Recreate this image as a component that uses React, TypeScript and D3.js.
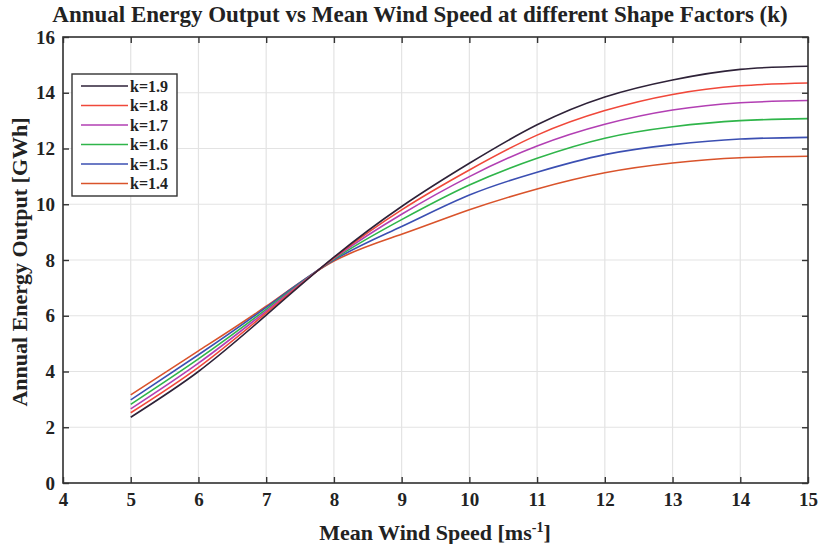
import { useEffect, useRef } from "react";
import * as d3 from "d3";

const windSpeeds = [5, 6, 7, 8, 9, 10, 11, 12, 13, 14, 15];

const shapeLabels = ["k=1.9", "k=1.8", "k=1.7", "k=1.6", "k=1.5", "k=1.4"];
const seriesColors = ["#2e2238", "#f0483a", "#b23fb3", "#2fb54a", "#3b4fb2", "#d9532b"];

const k19 = [2.36, 4.0, 6.02, 8.1, 9.92, 11.47, 12.85, 13.85, 14.46, 14.84, 14.95];
const k18 = [2.52, 4.15, 6.1, 8.08, 9.8, 11.23, 12.48, 13.36, 13.94, 14.25, 14.35];
const k17 = [2.66, 4.3, 6.17, 8.06, 9.64, 10.99, 12.09, 12.87, 13.38, 13.64, 13.72];
const k16 = [2.82, 4.45, 6.23, 8.03, 9.45, 10.69, 11.65, 12.37, 12.78, 13.0, 13.07];
const k15 = [2.98, 4.6, 6.3, 8.0, 9.2, 10.33, 11.15, 11.78, 12.14, 12.34, 12.4];
const k14 = [3.16, 4.74, 6.34, 7.96, 8.92, 9.8, 10.55, 11.13, 11.48, 11.67, 11.72];

const seriesValues = [k19, k18, k17, k16, k15, k14];

const xTicks = [4, 5, 6, 7, 8, 9, 10, 11, 12, 13, 14, 15];
const yTicks = [0, 2, 4, 6, 8, 10, 12, 14, 16];

const App = () => {
    const svgRef = useRef<SVGSVGElement>(null);

    useEffect(() => {
        if (!svgRef.current) return;
        const svg = d3.select(svgRef.current);
        svg.selectAll("*").remove();

        const width = 825;
        const height = 544;
        const margin = { top: 37, right: 17, bottom: 61, left: 63 };
        const w = width - margin.left - margin.right;
        const h = height - margin.top - margin.bottom;
        const font = "'Liberation Serif', 'Times New Roman', serif";

        const x = d3.scaleLinear().domain([4, 15]).range([0, w]);
        const y = d3.scaleLinear().domain([0, 16]).range([h, 0]);

        const g = svg.append("g")
            .attr("transform", `translate(${margin.left},${margin.top})`);

        // grid
        g.selectAll(".gx")
            .data(xTicks)
            .join("line")
            .attr("x1", d => x(d))
            .attr("x2", d => x(d))
            .attr("y1", 0)
            .attr("y2", h)
            .style("stroke", "#e3e3e3")
            .style("stroke-width", 1.2);

        g.selectAll(".gy")
            .data(yTicks)
            .join("line")
            .attr("x1", 0)
            .attr("x2", w)
            .attr("y1", d => y(d))
            .attr("y2", d => y(d))
            .style("stroke", "#e3e3e3")
            .style("stroke-width", 1.2);

        // lines
        const line = d3.line<number>()
            .x((_, i) => x(windSpeeds[i]))
            .y(d => y(d))
            .curve(d3.curveNatural);

        // draw k=1.4 first so k=1.9 sits on top
        seriesValues.slice().reverse().forEach((vals, ri) => {
            const i = seriesValues.length - 1 - ri;
            g.append("path")
                .datum(vals)
                .attr("d", line)
                .attr("fill", "none")
                .attr("stroke", seriesColors[i])
                .attr("stroke-width", 1.6);
        });

        // axes with inward ticks
        const xAxisBottom = d3.axisBottom(x).tickValues(xTicks).tickSize(-6).tickPadding(10);
        const xAxisTop = d3.axisTop(x).tickValues(xTicks).tickSize(-6).tickFormat(() => "");
        const yAxisLeft = d3.axisLeft(y).tickValues(yTicks).tickSize(-6).tickPadding(8);
        const yAxisRight = d3.axisRight(y).tickValues(yTicks).tickSize(-6).tickFormat(() => "");

        const styleAxis = (sel: any) => {
            sel.select(".domain").remove();
            sel.selectAll("line").attr("stroke", "#333").attr("stroke-width", 1.4);
            sel.selectAll("text")
                .style("font-family", font)
                .style("font-size", "19px")
                .style("font-weight", "bold")
                .style("fill", "#222");
        };

        g.append("g").attr("transform", `translate(0,${h})`).call(xAxisBottom).call(styleAxis);
        g.append("g").call(xAxisTop).call(styleAxis);
        g.append("g").call(yAxisLeft).call(styleAxis);
        g.append("g").attr("transform", `translate(${w},0)`).call(yAxisRight).call(styleAxis);

        g.append("rect")
            .attr("x", 0)
            .attr("y", 0)
            .attr("width", w)
            .attr("height", h)
            .attr("fill", "none")
            .attr("stroke", "#333")
            .attr("stroke-width", 1.6);

        // legend
        const legend = g.append("g").attr("transform", `translate(${72 - margin.left},${74 - margin.top})`);
        legend.append("rect")
            .attr("width", 105)
            .attr("height", 122)
            .attr("fill", "white")
            .attr("stroke", "#333")
            .attr("stroke-width", 1.4);

        shapeLabels.forEach((label, i) => {
            const ly = 12 + i * 19.5;
            legend.append("line")
                .attr("x1", 9)
                .attr("x2", 56)
                .attr("y1", ly)
                .attr("y2", ly)
                .attr("stroke", seriesColors[i])
                .attr("stroke-width", 1.6);
            legend.append("text")
                .attr("x", 58)
                .attr("y", ly)
                .attr("dy", "0.35em")
                .style("font-family", font)
                .style("font-size", "16px")
                .style("font-weight", "bold")
                .style("fill", "#222")
                .text(label);
        });

        // title
        svg.append("text")
            .attr("x", 420)
            .attr("y", 22)
            .attr("text-anchor", "middle")
            .style("font-family", font)
            .style("font-size", "23px")
            .style("font-weight", "bold")
            .style("fill", "#222")
            .text("Annual Energy Output vs Mean Wind Speed at different Shape Factors (k)");

        // x label
        const xl = svg.append("text")
            .attr("x", 435)
            .attr("y", 540)
            .attr("text-anchor", "middle")
            .style("font-family", font)
            .style("font-size", "22px")
            .style("font-weight", "bold")
            .style("fill", "#222");
        xl.append("tspan").text("Mean Wind Speed [ms");
        xl.append("tspan").attr("dy", -8).style("font-size", "14px").text("-1");
        xl.append("tspan").attr("dy", 8).text("]");

        // y label
        svg.append("text")
            .attr("transform", `translate(27,${margin.top + h / 2 + 2}) rotate(-90)`)
            .attr("text-anchor", "middle")
            .style("font-family", font)
            .style("font-size", "22px")
            .style("font-weight", "bold")
            .style("fill", "#222")
            .text("Annual Energy Output [GWh]");
    }, []);

    return (
        <svg
            ref={svgRef}
            width={825}
            height={544}
            style={{ position: "absolute", left: 0, top: 0, background: "white" }}
        />
    );
};

export default App;
